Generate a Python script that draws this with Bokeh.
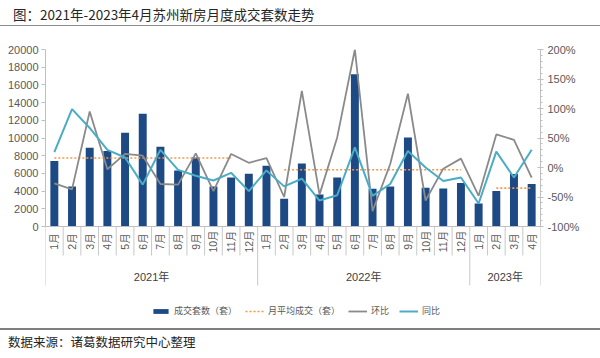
import numpy as np
from bokeh.plotting import figure
from bokeh.models import Range1d, LinearAxis, FixedTicker, Legend, LegendItem, Span, Div
from bokeh.layouts import column
from bokeh.core.properties import value
from bokeh.embed import file_html
from bokeh.resources import INLINE

# ---------------- data ----------------
title_text = "图：2021年-2023年4月苏州新房月度成交套数走势"
source_text = "数据来源：诸葛数据研究中心整理"

years = ["2021年", "2022年", "2023年"]
year_month_counts = [12, 12, 4]
months = ["1月", "2月", "3月", "4月", "5月", "6月", "7月", "8月", "9月", "10月", "11月", "12月",
          "1月", "2月", "3月", "4月", "5月", "6月", "7月", "8月", "9月", "10月", "11月", "12月",
          "1月", "2月", "3月", "4月"]

# 成交套数（套）
volume = [7400, 4530, 8900, 8530, 10600, 12750, 9020, 6340, 7800, 4530, 5550, 5960,
          6870, 3130, 7130, 3620, 5550, 17200, 4270, 4530, 10070, 4380, 4300, 4910,
          2600, 4010, 5930, 4800]

# 月平均成交（套） (dotted reference line, per month where drawn)
monthly_avg = [7740, 7740, 7740, 7740, 7740, 7740, 7740, 7740, 7740, 7740, 7740, None,
               None, 6420, 6420, 6420, 6420, 6420, 6420, 6420, 6420, 6420, 6420, 6420,
               None, 4340, 4340, 4340]

# 环比 (%)
mom = [-27, -37, 95, -3, 23, 20, -28, -29, 24, -40, 23, 8,
       16, -50, 130, -46, 51, 200, -74, 6, 125, -56, -2, 15,
       -48, 56, 47, -17]

# 同比 (%)
yoy = [26, 99, 67, 30, 17, -29, 30, -4, -14, -22, -9, -40,
       -5, -32, -19, -56, -47, 34, -48, -28, 28, 0, -23, -17,
       -61, 27, -17, 30]

left_ticks = [0, 2000, 4000, 6000, 8000, 10000, 12000, 14000, 16000, 18000, 20000]
right_ticks = [-100, -50, 0, 50, 100, 150, 200]
left_max = 20000
right_min, right_max = -100, 200

# ---------------- styles / layout (pixels) ----------------
BAR = "#1d4a85"
GRAY = "#8a8a8a"
TEAL = "#4bacc6"
ORANGE = "#f79646"
TICK_TXT = "#595959"
AXIS_LINE = "#bfbfbf"
SEP = "#c8c8c8"
LAT = "Liberation Sans, Noto Sans CJK SC"
CJK = "Noto Sans CJK SC"

PAGE_W = 600
PLOT_H = 177        # value area height
BELOW_H = 96        # category labels + legend area inside the frame
FRAME_H = PLOT_H + BELOW_H
MONTH_LABEL_Y = BELOW_H - 15   # px from frame bottom
MONTH_SEP_END = BELOW_H - 29
YEAR_SEP_END = BELOW_H - 59
YEAR_LABEL_Y = BELOW_H - 50

n = len(volume)
xc = [i + 0.5 for i in range(n)]
avg_arr = np.array([np.nan if v is None else v for v in monthly_avg], dtype=float)

# ---------------- header ----------------
hdr = Div(width=PAGE_W, height=30, margin=0,
          text=(f'<div style="position:relative;width:{PAGE_W}px;height:30px;">'
                f'<span style="position:absolute;left:13px;top:4px;white-space:nowrap;'
                f'font-family:\'Noto Sans CJK SC\';font-size:13.5px;line-height:20px;color:#262626;">'
                f'{title_text}</span>'
                f'<div style="position:absolute;left:0;top:25px;width:{PAGE_W}px;height:0;'
                f'border-top:1.5px solid #8c8c8c;"></div></div>'))

# ---------------- main chart ----------------
y0 = -left_max * BELOW_H / PLOT_H
r0 = right_min - (right_max - right_min) * BELOW_H / PLOT_H
p = figure(frame_width=495, frame_height=FRAME_H, x_range=Range1d(0, n), y_range=Range1d(y0, left_max),
           min_border_left=45, min_border_right=60, min_border_top=19, min_border_bottom=0,
           toolbar_location=None, output_backend="svg",
           x_axis_location=None, y_axis_location=None)
p.grid.visible = False
p.outline_line_color = None
p.extra_y_ranges = {"pct": Range1d(r0, right_max), "px": Range1d(0, FRAME_H)}

bars = p.vbar(x=xc, top=volume, width=0.45, fill_color=BAR, line_color=None)
avg_r = p.line(x=xc, y=avg_arr, line_color=ORANGE, line_width=1.6, line_dash="2 2")
mom_r = p.line(x=xc, y=mom, y_range_name="pct", line_color=GRAY, line_width=1.8)
yoy_r = p.line(x=xc, y=yoy, y_range_name="pct", line_color=TEAL, line_width=2)

ly = LinearAxis(ticker=FixedTicker(ticks=left_ticks, minor_ticks=[]), bounds=(0, left_max),
                major_tick_out=4, major_tick_in=0, major_label_standoff=3,
                major_tick_line_color=AXIS_LINE, axis_line_color=AXIS_LINE,
                major_label_text_font=LAT, major_label_text_font_size="11px",
                major_label_text_color=TICK_TXT)
p.add_layout(ly, "left")

ry = LinearAxis(y_range_name="pct", bounds=(right_min, right_max),
                ticker=FixedTicker(ticks=right_ticks, minor_ticks=list(range(right_min, right_max + 1, 10))),
                major_label_overrides={t: f"{t}%" for t in right_ticks},
                major_tick_out=3, major_tick_in=3, minor_tick_out=2, minor_tick_in=0,
                major_label_standoff=4,
                major_tick_line_color=AXIS_LINE, minor_tick_line_color=AXIS_LINE,
                axis_line_color=AXIS_LINE,
                major_label_text_font=LAT, major_label_text_font_size="11px",
                major_label_text_color=TICK_TXT)
p.add_layout(ry, "right")

# category axis line (value 0)
p.add_layout(Span(location=0, dimension="width", line_color=AXIS_LINE, line_width=1))

# category separators and labels
bounds = [0]
for c in year_month_counts:
    bounds.append(bounds[-1] + c)
group_centers = [(a + b) / 2 for a, b in zip(bounds[:-1], bounds[1:])]
inner = [b for b in range(n + 1) if b not in bounds]
p.segment(x0=inner, x1=inner, y0=[BELOW_H] * len(inner), y1=[MONTH_SEP_END] * len(inner),
          y_range_name="px", line_color=SEP, line_width=1)
p.segment(x0=bounds, x1=bounds, y0=[BELOW_H] * len(bounds), y1=[YEAR_SEP_END] * len(bounds),
          y_range_name="px", line_color=SEP, line_width=1)
p.text(x=xc, y=[MONTH_LABEL_Y] * n, text=months, y_range_name="px", angle=np.pi / 2,
       text_align="center", text_baseline="middle", text_font=value(LAT),
       text_font_size="10.5px", text_color=TICK_TXT)
p.text(x=group_centers, y=[YEAR_LABEL_Y] * len(years), text=years, y_range_name="px",
       text_align="center", text_baseline="middle", text_font=value(LAT),
       text_font_size="11px", text_color="#404040")

legend = Legend(items=[LegendItem(label="成交套数（套）", renderers=[bars]),
                       LegendItem(label="月平均成交（套）", renderers=[avg_r]),
                       LegendItem(label="环比", renderers=[mom_r]),
                       LegendItem(label="同比", renderers=[yoy_r])],
                orientation="horizontal", location=(106, 5),
                label_text_font=CJK, label_text_font_size="9px", label_text_color=TICK_TXT,
                glyph_width=19, glyph_height=6, label_height=12, label_standoff=4,
                spacing=8, padding=0, margin=0,
                border_line_color=None, background_fill_alpha=0)
p.add_layout(legend, "center")

# ---------------- footer ----------------
ftr = Div(width=PAGE_W, height=36, margin=0,
          text=(f'<div style="position:relative;width:{PAGE_W}px;height:36px;">'
                f'<div style="position:absolute;left:0;top:5.5px;width:{PAGE_W}px;height:0;'
                f'border-top:2px solid #7f7f7f;"></div>'
                f'<span style="position:absolute;left:8px;top:11px;white-space:nowrap;'
                f'font-family:\'Noto Sans CJK SC\';font-size:12.5px;line-height:18px;color:#262626;">'
                f'{source_text}</span></div>'))

layout = column(hdr, p, ftr, spacing=0)
open("out.html", "w").write(file_html(layout, INLINE))
